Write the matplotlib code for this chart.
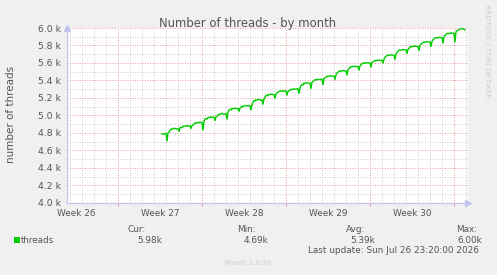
import numpy as np
import matplotlib
matplotlib.use("Agg")
import matplotlib.pyplot as plt
from matplotlib.patches import Rectangle

# ---- data (x in days since Jul 1 00:00, values = number of threads) ----
first_hours = [16, 18, 20, 22]
first_values = [4790, 4785, 4790, 4795]

day_hours = [0, 2, 4, 6, 8, 10, 12, 14, 16, 18, 20, 22]
days = list(range(1, 26))  # Jul 2 .. Jul 26
day_values = [
    [4795, 4705, 4800, 4810, 4830, 4845, 4840, 4850, 4855, 4850, 4850, 4845],
    [4850, 4815, 4860, 4865, 4860, 4875, 4880, 4880, 4875, 4885, 4880, 4880],
    [4880, 4850, 4885, 4890, 4905, 4915, 4910, 4920, 4920, 4915, 4925, 4920],
    [4920, 4830, 4935, 4960, 4965, 4960, 4975, 4980, 4975, 4985, 4980, 4980],
    [4980, 4940, 4985, 4990, 5005, 5015, 5010, 5020, 5025, 5020, 5015, 5020],
    [5020, 4955, 5035, 5060, 5070, 5065, 5080, 5075, 5080, 5085, 5080, 5080],
    [5080, 5045, 5085, 5090, 5105, 5100, 5110, 5115, 5110, 5110, 5115, 5110],
    [5110, 5060, 5125, 5150, 5170, 5165, 5180, 5175, 5180, 5185, 5180, 5175],
    [5180, 5125, 5190, 5210, 5230, 5225, 5240, 5235, 5240, 5245, 5240, 5240],
    [5240, 5195, 5245, 5260, 5265, 5275, 5280, 5280, 5275, 5285, 5280, 5280],
    [5280, 5230, 5275, 5285, 5290, 5300, 5295, 5300, 5305, 5300, 5300, 5305],
    [5305, 5250, 5320, 5340, 5355, 5350, 5370, 5365, 5370, 5375, 5370, 5370],
    [5370, 5305, 5380, 5390, 5400, 5410, 5405, 5410, 5415, 5410, 5410, 5415],
    [5415, 5350, 5420, 5430, 5440, 5450, 5445, 5450, 5455, 5450, 5450, 5450],
    [5450, 5410, 5465, 5485, 5495, 5505, 5510, 5505, 5510, 5515, 5510, 5510],
    [5510, 5460, 5520, 5540, 5545, 5560, 5555, 5560, 5565, 5560, 5555, 5560],
    [5560, 5515, 5565, 5580, 5590, 5600, 5595, 5600, 5605, 5600, 5600, 5600],
    [5600, 5550, 5605, 5615, 5620, 5630, 5625, 5630, 5635, 5630, 5630, 5630],
    [5630, 5595, 5645, 5665, 5675, 5685, 5690, 5685, 5690, 5695, 5690, 5690],
    [5690, 5640, 5700, 5720, 5735, 5745, 5750, 5745, 5750, 5755, 5750, 5750],
    [5750, 5705, 5755, 5770, 5780, 5790, 5785, 5790, 5795, 5790, 5790, 5790],
    [5790, 5740, 5800, 5815, 5825, 5835, 5840, 5835, 5840, 5845, 5840, 5840],
    [5840, 5785, 5845, 5865, 5875, 5885, 5890, 5885, 5890, 5895, 5890, 5890],
    [5890, 5825, 5900, 5915, 5925, 5935, 5940, 5935, 5940, 5945, 5940, 5940],
    [5940, 5835, 5955, 5970, 5975, 5980, 5985, 5990, 6000, 5990, 5985, 5980],
]

week_starts = [-3, 4, 11, 18, 25]          # Sundays Jun 28 .. Jul 26
week_labels = ["Week 26", "Week 27", "Week 28", "Week 29", "Week 30"]
y_ticks = [4000, 4200, 4400, 4600, 4800, 5000, 5200, 5400, 5600, 5800, 6000]

legend_name = "threads"
stat_names = ["Cur:", "Min:", "Avg:", "Max:"]
stat_values = ["5.98k", "4.69k", "5.39k", "6.00k"]

# ---- assemble series ----
xs = [h / 24.0 for h in first_hours]
ys = list(first_values)
for d, row in zip(days, day_values):
    xs += [d + h / 24.0 for h in day_hours]
    ys += row

W, H = 497, 275
fig = plt.figure(figsize=(W / 100, H / 100), dpi=100, facecolor="#f0f0f0")

def fx(px):
    return px / W

def fy(py):
    return 1 - py / H

L, R, T, B = 67, 468, 28, 203
ax = fig.add_axes([fx(L), fy(B), (R - L) / W, (B - T) / H])
ax.set_facecolor("white")
ax.set_xlim(-7.25, 26.17)
ax.set_ylim(4000, 6000)

txt = "#555555"
minor_c = "#cfcfcf"
major_c = "#e8a3a3"
axis_c = "#c4c4f0"

# grids
ax.set_yticks(y_ticks)
ax.set_yticks(np.arange(4100, 6000, 200), minor=True)
ax.set_yticklabels([f"{v/1000:.1f} k" for v in y_ticks], fontsize=6.7, color=txt)
ax.tick_params(axis="y", which="both", length=0, pad=4.5)
ax.set_xticks(week_starts)
ax.set_xticklabels([])
ax.set_xticks(np.arange(-7, 27, 1), minor=True)
ax.tick_params(axis="x", which="major", length=2.5, color=major_c, width=0.8)
ax.tick_params(axis="x", which="minor", length=0)

ax.grid(True, which="minor", color=minor_c, linestyle=(0, (1, 1.5)), linewidth=0.72)
ax.grid(True, which="major", color=major_c, linestyle=(0, (1, 1.5)), linewidth=0.72)
ax.set_axisbelow(True)

for s in ["top", "right"]:
    ax.spines[s].set_visible(False)
for s in ["left", "bottom"]:
    ax.spines[s].set_color(axis_c)
    ax.spines[s].set_linewidth(0.9)
ax.plot([1.0], [0], marker=">", markersize=4, color=axis_c, transform=ax.transAxes, clip_on=False)
ax.plot([0], [1.0], marker="^", markersize=4, color=axis_c, transform=ax.transAxes, clip_on=False)

# data line
ax.plot(xs, ys, color="#00cc00", linewidth=1.0, solid_joinstyle="miter")

# week labels
for ws, lab in zip(week_starts, week_labels):
    ax.text(ws - 3.5, (B - 216.5) / (B - T), lab, transform=ax.get_xaxis_transform(),
            ha="center", va="baseline", fontsize=6.4, color=txt)

# titles
fig.text(fx(248), fy(26.5), "Number of threads - by month", ha="center", va="baseline",
         fontsize=8.4, color=txt)
fig.text(fx(11), fy(114), "number of threads", rotation=90, ha="center", va="center",
         fontsize=7.5, color=txt)
fig.text(fx(487), fy(51), "RRDTOOL / TOBI OETIKER", rotation=-90, ha="center", va="center",
         fontsize=5.3, color="#cccccc")

# legend
fig.patches.append(Rectangle((fx(14), fy(243)), 6 / W, 6 / H, transform=fig.transFigure,
                             facecolor="#00cc00", edgecolor="none"))
fig.text(fx(20.7), fy(243), legend_name, ha="left", va="baseline", fontsize=6.3, color=txt)
name_x = [127.7, 236.7, 346, 455.7]
val_x = [137.7, 244, 350, 457]
for nx, vx, nm, vv in zip(name_x, val_x, stat_names, stat_values):
    fig.text(fx(nx), fy(231.5), nm, ha="left", va="baseline", fontsize=6.4, color=txt)
    fig.text(fx(vx), fy(243), vv, ha="left", va="baseline", fontsize=6.4, color=txt)
fig.text(fx(307.7), fy(253), "Last update: Sun Jul 26 23:20:00 2026", ha="left", va="baseline",
         fontsize=6.4, color=txt)
fig.text(fx(248), fy(263), "Munin 2.0.76", ha="center", va="center", fontsize=5.0, color="#cccccc")

fig.savefig("out.png", dpi=100, facecolor=fig.get_facecolor())
